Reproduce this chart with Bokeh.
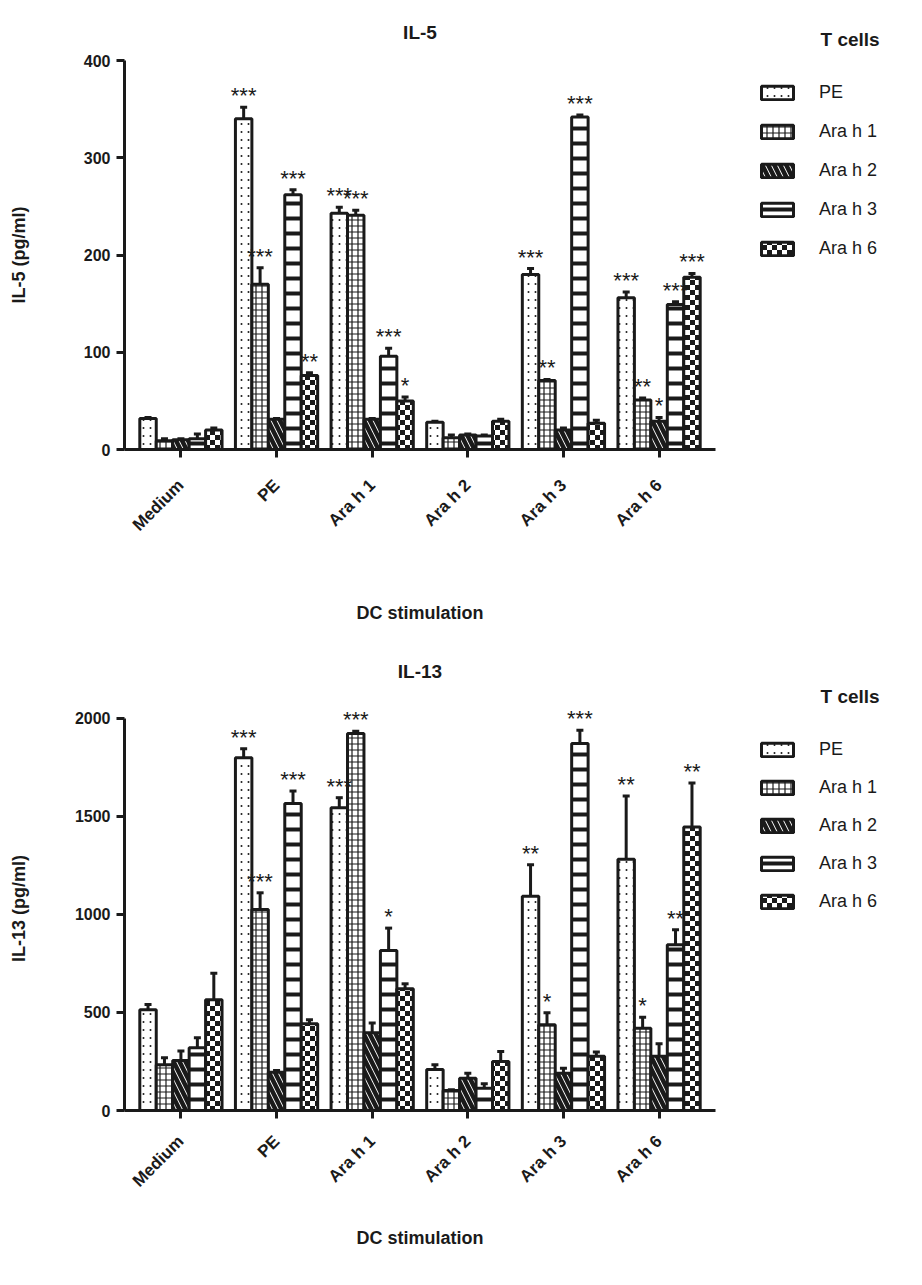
import base64
import numpy as np
from bokeh.plotting import figure
from bokeh.models import (ColumnDataSource, FactorRange, FixedTicker, Legend,
                          LegendItem, LabelSet, ImageURLTexture, Range1d)
from bokeh.transform import dodge
from bokeh.layouts import column, row
from bokeh.embed import file_html
from bokeh.resources import INLINE
from bokeh.core.properties import value

categories = ["Medium", "PE", "Ara h 1", "Ara h 2", "Ara h 3", "Ara h 6"]
series = ["PE", "Ara h 1", "Ara h 2", "Ara h 3", "Ara h 6"]

# IL-5 (pg/ml): means, SEM and significance per T-cell series
il5_pe = [32, 340, 243, 28, 180, 156]
il5_arah1 = [9, 170, 241, 12, 71, 51]
il5_arah2 = [10, 31, 31, 15, 20, 29]
il5_arah3 = [11, 262, 96, 14, 342, 149]
il5_arah6 = [20, 76, 50, 29, 27, 177]
il5_pe_err = [1, 12, 6, 1, 6, 6]
il5_arah1_err = [2, 17, 5, 3, 1, 2]
il5_arah2_err = [1, 1, 1, 1, 2, 4]
il5_arah3_err = [5, 5, 8, 1, 2, 3]
il5_arah6_err = [2, 3, 4, 2, 3, 4]
il5_pe_sig = ["", "***", "***", "", "***", "***"]
il5_arah1_sig = ["", "***", "***", "", "**", "**"]
il5_arah2_sig = ["", "", "", "", "", "*"]
il5_arah3_sig = ["", "***", "***", "", "***", "***"]
il5_arah6_sig = ["", "**", "*", "", "", "***"]

# IL-13 (pg/ml)
il13_pe = [514, 1799, 1544, 209, 1092, 1281]
il13_arah1 = [233, 1025, 1922, 102, 437, 420]
il13_arah2 = [255, 195, 396, 165, 190, 276]
il13_arah3 = [320, 1565, 816, 114, 1871, 845]
il13_arah6 = [565, 442, 621, 250, 277, 1446]
il13_pe_err = [27, 46, 51, 24, 161, 323]
il13_arah1_err = [36, 85, 12, 4, 61, 56]
il13_arah2_err = [48, 9, 50, 25, 26, 64]
il13_arah3_err = [51, 64, 114, 22, 68, 77]
il13_arah6_err = [135, 21, 25, 51, 21, 224]
il13_pe_sig = ["", "***", "***", "", "**", "**"]
il13_arah1_sig = ["", "***", "***", "", "*", "*"]
il13_arah2_sig = ["", "", "", "", "", ""]
il13_arah3_sig = ["", "***", "*", "", "***", "**"]
il13_arah6_sig = ["", "", "", "", "", "**"]

il5_ticks = [0, 100, 200, 300, 400]
il13_ticks = [0, 500, 1000, 1500, 2000]

FONT = "Liberation Sans"
INK = "#1a1a1a"


def svg_url(svg):
    return "data:image/svg+xml;base64," + base64.b64encode(svg.encode()).decode()


checker_url = svg_url(
    "<svg xmlns='http://www.w3.org/2000/svg' width='10' height='10'>"
    "<rect width='10' height='10' fill='white'/>"
    "<rect x='0' y='0' width='5' height='5' fill='#1a1a1a'/>"
    "<rect x='5' y='5' width='5' height='5' fill='#1a1a1a'/></svg>")
dots_url = svg_url(
    "<svg xmlns='http://www.w3.org/2000/svg' width='7' height='8'>"
    "<rect width='7' height='8' fill='white'/>"
    "<circle cx='3.5' cy='4' r='1' fill='#1a1a1a'/></svg>")


def make_styles():
    return [
        dict(hatch_pattern=value("dots"),
             hatch_extra={"dots": ImageURLTexture(url=dots_url)}),
        dict(hatch_pattern="cross", hatch_scale=6, hatch_weight=1.2),
        dict(hatch_pattern="left_diagonal_line", hatch_scale=12, hatch_weight=4.5),
        dict(hatch_pattern="horizontal_line", hatch_scale=15, hatch_weight=4),
        dict(hatch_pattern=value("checker"),
             hatch_extra={"checker": ImageURLTexture(url=checker_url)}),
    ]


def build(title, ylabel, ticks, ytop, means, errs, sigs, height, top, bottom,
          title_standoff, ylab_standoff, xlab_standoff, lab_standoff):
    p = figure(x_range=FactorRange(factors=categories, range_padding=0.09,
                                   range_padding_units="absolute"),
               y_range=Range1d(ticks[0], ytop),
               width=720, height=height, output_backend="svg",
               toolbar_location=None, min_border_left=124, min_border_right=5,
               min_border_top=top, min_border_bottom=bottom)
    p.outline_line_color = None
    p.xgrid.grid_line_color = None
    p.ygrid.grid_line_color = None
    p.background_fill_color = "white"

    p.title.text = title
    p.title.align = "center"
    p.title.text_font = FONT
    p.title.text_font_style = "bold"
    p.title.text_font_size = "19px"
    p.title.text_color = INK
    p.title.standoff = title_standoff

    for ax in (p.xaxis[0], p.yaxis[0]):
        ax.axis_line_width = 3
        ax.axis_line_color = INK
        ax.major_tick_line_width = 3
        ax.major_tick_line_color = INK
        ax.major_tick_out = 8
        ax.major_tick_in = 0
        ax.minor_tick_line_color = None
        ax.major_label_text_font = FONT
        ax.major_label_text_font_style = "bold"
        ax.major_label_text_font_size = "16px"
        ax.major_label_text_color = INK
        ax.axis_label_text_font = FONT
        ax.axis_label_text_font_style = "bold"
        ax.axis_label_text_font_size = "18px"
        ax.axis_label_text_color = INK

    p.yaxis.ticker = FixedTicker(ticks=ticks)
    p.yaxis.bounds = (ticks[0], ticks[-1])
    p.yaxis.axis_label = ylabel
    p.yaxis.axis_label_standoff = ylab_standoff
    p.yaxis.major_label_standoff = 6
    p.xaxis.axis_label = "DC stimulation"
    p.xaxis.axis_label_standoff = xlab_standoff
    p.xaxis.major_label_orientation = np.pi / 4
    p.xaxis.major_label_standoff = lab_standoff
    p.xaxis.major_label_text_font_size = "17px"

    styles = make_styles()
    bw = 0.172
    sources = []
    for i, name in enumerate(series):
        off = (i - 2) * bw
        hi = [m + e for m, e in zip(means[i], errs[i])]
        src = ColumnDataSource(dict(cat=categories, val=means[i], hi=hi, sig=sigs[i]))
        sources.append(src)
        xs = dodge("cat", off, range=p.x_range)
        p.segment(x0=xs, y0="val", x1=xs, y1="hi", source=src,
                  line_width=3, line_color=INK)
        p.scatter(x=xs, y="hi", source=src, marker="dash", size=7,
                  line_width=3, line_color=INK)
        p.vbar(x=xs, top="val", width=bw, source=src, fill_color="white",
               line_color=INK, line_width=3, hatch_color=INK, **styles[i])
        p.add_layout(LabelSet(x=xs, y="hi", text="sig", source=src,
                              text_align="center", text_baseline="bottom",
                              y_offset=-1, text_font=value(FONT),
                              text_font_size=value("22px"),
                              text_color=INK))
    return p, sources


def build_legend(sources, height, leg_y, leg_spacing, title_standoff):
    # legend-only panel: its proxy bars are hidden, only the legend
    # swatches are shown
    q = figure(width=200, height=height, output_backend="svg",
               toolbar_location=None, x_range=FactorRange(factors=categories),
               y_range=Range1d(-2, -1),
               x_axis_location=None, y_axis_location=None, min_border=0)
    q.outline_line_color = None
    q.xgrid.grid_line_color = None
    q.ygrid.grid_line_color = None
    q.title.text = "T cells"
    q.title.align = "left"
    q.title.offset = 100
    q.title.standoff = title_standoff
    q.title.text_font = FONT
    q.title.text_font_style = "bold"
    q.title.text_font_size = "19px"
    q.title.text_color = INK
    styles = make_styles()
    items = []
    for i, name in enumerate(series):
        r = q.vbar(x=dodge("cat", 200, range=q.x_range), top="val", width=0.1,
                   source=sources[i], fill_color="white", line_color=INK,
                   line_width=3, hatch_color=INK, **styles[i])
        r.visible = False
        items.append(LegendItem(label=name, renderers=[r]))
    legend = Legend(items=items, location=(37, leg_y), orientation="vertical",
                    glyph_width=40, glyph_height=17, label_height=20,
                    spacing=leg_spacing, label_standoff=22, margin=0, padding=0,
                    border_line_color=None, background_fill_alpha=0,
                    label_text_font=FONT, label_text_font_size="18px",
                    label_text_color=INK, click_policy="none")
    q.add_layout(legend, "center")
    return q


p1, s1 = build("IL-5", "IL-5 (pg/ml)", il5_ticks, 400,
               [il5_pe, il5_arah1, il5_arah2, il5_arah3, il5_arah6],
               [il5_pe_err, il5_arah1_err, il5_arah2_err, il5_arah3_err, il5_arah6_err],
               [il5_pe_sig, il5_arah1_sig, il5_arah2_sig, il5_arah3_sig, il5_arah6_sig],
               height=626, top=60, bottom=176, title_standoff=36, ylab_standoff=52,
               xlab_standoff=59, lab_standoff=25)
l1 = build_legend(s1, 626, 190, 18, 22)

p2, s2 = build("IL-13", "IL-13 (pg/ml)", il13_ticks, 2060,
               [il13_pe, il13_arah1, il13_arah2, il13_arah3, il13_arah6],
               [il13_pe_err, il13_arah1_err, il13_arah2_err, il13_arah3_err, il13_arah6_err],
               [il13_pe_sig, il13_arah1_sig, il13_arah2_sig, il13_arah3_sig, il13_arah6_sig],
               height=657, top=80, bottom=173, title_standoff=50, ylab_standoff=43,
               xlab_standoff=28, lab_standoff=20)
l2 = build_legend(s2, 657, 198, 17, 0)

layout = column(row(p1, l1, spacing=0), row(p2, l2, spacing=0), spacing=0)
open("out.html", "w").write(file_html(layout, INLINE))
